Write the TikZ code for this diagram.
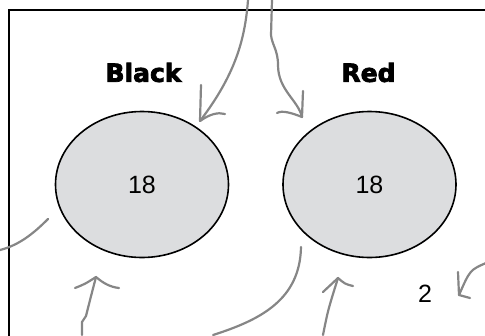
\documentclass[tikz,border=0pt]{standalone}
\usepackage{fontspec}
\setmainfont{Liberation Sans}
\newfontfamily\heavyfont{DejaVu Sans}[BoldFeatures={FakeBold=3}]
\usetikzlibrary{shapes.geometric}
\definecolor{pen}{HTML}{868686}
\definecolor{ballfill}{HTML}{DCDDDF}
\tikzset{
  ball/.style={ellipse, draw=black, line width=1.6pt, fill=ballfill, inner sep=0pt,
    minimum width=173pt, minimum height=146pt, font=\fontsize{25}{25}\selectfont},
  headlabel/.style={font=\heavyfont\bfseries\fontsize{25}{25}\selectfont, inner sep=0pt},
  plain/.style={font=\fontsize{25}{25}\selectfont, inner sep=0pt},
  sketch/.style={draw=pen, line width=2.2pt, line cap=round, line join=round},
  frameline/.style={draw=black, line width=2.4pt}
}
\begin{document}
\begin{tikzpicture}[x=1pt,y=-1pt]
\useasboundingbox (0,0) rectangle (485,335);
\clip (0,0) rectangle (485,335);
% frame
\coordinate (fbl) at (9,345);
\coordinate (ftl) at (9,10);
\coordinate (ftr) at (495,10);
\draw[frameline] (fbl) -- (ftl) -- (ftr);
% balls
\node[ball] (blackball) at (142,184.5) {18};
\node[ball] (redball) at (369.5,184.5) {18};
\node[headlabel] (blacklabel) at (143.5,72.5) {Black};
\node[headlabel] (redlabel) at (368.5,72.5) {Red};
\node[plain] (two) at (425,294) {2};
% arrow 1 into Black
\coordinate (a1s) at (248,0);
\coordinate (a1t) at (200,121);
\coordinate (a1u) at (201,85);
\coordinate (a1r) at (225,114);
\draw[sketch] (a1s) .. controls (245,40) and (235,75) .. (a1t);
\draw[sketch] (a1u) -- (a1t) .. controls (210,114) and (218,112) .. (a1r);
% arrow 2 into Red
\coordinate (a2s) at (272,0);
\coordinate (a2t) at (302,117);
\coordinate (a2u) at (303,91);
\coordinate (a2l) at (277,113);
\draw[sketch] (a2s) -- (271,35) .. controls (272,45) and (278,50) .. (278,65) .. controls (278,90) and (298,100) .. (a2t);
\draw[sketch] (a2u) -- (a2t) .. controls (292,113) and (282,110) .. (a2l);
% left curve
\coordinate (a3s) at (0,250);
\coordinate (a3e) at (48,219);
\draw[sketch] (a3s) .. controls (20,245) and (35,232) .. (a3e);
% arrow 4 up to Black
\coordinate (a4s) at (82,335);
\coordinate (a4t) at (96,277);
\coordinate (a4l) at (75,288);
\coordinate (a4r) at (119,288);
\draw[sketch] (a4s) -- (82,322) -- (86,316) .. controls (90,300) .. (a4t);
\draw[sketch] (a4l) .. controls (85,284) .. (a4t) .. controls (103,283) and (110,287) .. (a4r);
% big curve
\coordinate (a5s) at (301,247);
\coordinate (a5e) at (213,335);
\draw[sketch] (a5s) .. controls (300,300) and (260,320) .. (a5e);
% arrow 6 up to Red
\coordinate (a6s) at (323,335);
\coordinate (a6t) at (338,278);
\coordinate (a6l) at (323,292);
\coordinate (a6r) at (353,286);
\draw[sketch] (a6s) .. controls (328,310) .. (a6t);
\draw[sketch] (a6l) -- (a6t) .. controls (345,284) .. (a6r);
% arrow 7 to the 2
\coordinate (a7s) at (486,263);
\coordinate (a7t) at (459,295);
\coordinate (a7u) at (458,272);
\coordinate (a7r) at (470,298);
\draw[sketch] (a7s) .. controls (470,270) .. (a7t);
\draw[sketch] (a7u) -- (a7t) -- (a7r);
\end{tikzpicture}
\end{document}
